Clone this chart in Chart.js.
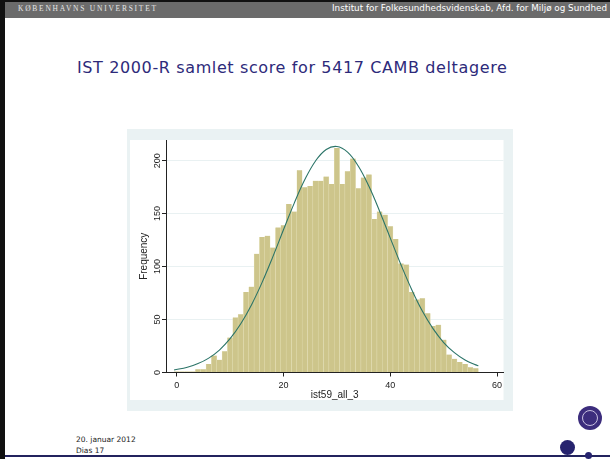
<!DOCTYPE html>
<html><head><meta charset="utf-8">
<script src="https://cdn.jsdelivr.net/npm/chart.js@4.4.0/dist/chart.umd.min.js"></script>
<style>
html,body{margin:0;padding:0;background:#fff;}
#page{position:relative;width:610px;height:459px;overflow:hidden;background:#fff;}
#hdr{position:absolute;left:0;top:0;width:610px;height:18px;background:#6b6b6b;}
#tbar{position:absolute;left:0;top:0;width:610px;height:2px;background:#111;}
#lbar{position:absolute;left:0;top:0;width:5px;height:459px;background:#111;}
#bline{position:absolute;left:5px;top:455px;width:605px;height:2px;background:#23235e;}
#ku{position:absolute;left:18px;top:4px;font-family:"Liberation Serif",serif;font-size:7.5px;letter-spacing:1.75px;color:#e6e6e6;white-space:nowrap;}
#inst{position:absolute;right:3px;top:3px;font-family:"DejaVu Sans",sans-serif;font-size:8.8px;color:#fff;white-space:nowrap;}
#title{position:absolute;left:77px;top:58px;font-family:"DejaVu Sans",sans-serif;font-size:16px;letter-spacing:0.62px;color:#2d2a7a;white-space:nowrap;}
#chartbox{position:absolute;left:127px;top:129px;width:386px;height:282px;}
#f1{position:absolute;left:76px;top:435px;font-family:"DejaVu Sans",sans-serif;font-size:7.5px;color:#222;white-space:nowrap;}
#f2{position:absolute;left:76px;top:446px;font-family:"DejaVu Sans",sans-serif;font-size:7.5px;color:#222;white-space:nowrap;}
#seal{position:absolute;left:578px;top:406px;width:24px;height:24px;border-radius:50%;background:#3c2d7d;}
#sealin{position:absolute;left:582px;top:410px;width:14px;height:14px;border-radius:50%;border:1px solid #c8c0e0;}
#dot1{position:absolute;left:560px;top:440px;width:15px;height:15px;border-radius:50%;background:#26236e;}
#dot2{position:absolute;left:585px;top:452px;width:7px;height:7px;border-radius:50%;background:#26236e;}
</style></head>
<body><div id="page">
<div id="hdr"></div><div id="tbar"></div><div id="lbar"></div><div id="bline"></div>
<div id="ku">KØBENHAVNS UNIVERSITET</div>
<div id="inst">Institut for Folkesundhedsvidenskab, Afd. for Miljø og Sundhed</div>
<div id="title">IST 2000-R samlet score for 5417 CAMB deltagere</div>
<div id="chartbox"><canvas id="c" width="386" height="282"></canvas></div>
<div id="f1">20. januar 2012</div>
<div id="f2">Dias 17</div>
<div id="seal"></div><div id="sealin"></div><div id="dot1"></div><div id="dot2"></div>
</div>
<script>
// Data
const scores = [0,1,2,3,4,5,6,7,8,9,10,11,12,13,14,15,16,17,18,19,20,21,22,23,24,25,26,27,28,29,30,31,32,33,34,35,36,37,38,39,40,41,42,43,44,45,46,47,48,49,50,51,52,53,54,55,56];
const frequencies = [1,1,1,1,3,3,8,16,12,20,33,52,55,76,81,112,128,129,118,137,139,159,152,191,175,176,181,181,185,178,212,178,190,202,174,184,187,145,152,149,138,126,103,102,76,69,70,56,44,45,31,17,13,10,8,5,4];
const curveX = [-0.5,2,4,6,8,10,12,14,16,18,20,22,24,26,28,30,32,34,36,38,40,42,44,46,48,50,52,54,56,56.5];
const curveY = [2.4,5.0,8.4,13.6,21.2,31.9,46.0,63.8,85.1,109.2,134.7,159.7,182.1,199.7,210.5,213.4,208.0,195.0,175.8,152.3,126.9,101.7,78.4,58.0,41.4,28.3,18.7,11.8,7.2,6.3];
const xTicks = [0,20,40,60];
const yTicks = [0,50,100,150,200];

const bgPlugin = {
  id:'bg',
  beforeDraw(c){
    const {ctx, chartArea:a, width, height} = c;
    ctx.save();
    ctx.fillStyle = '#eaf2f3';
    ctx.fillRect(0,0,width,height);
    ctx.fillStyle = '#ffffff';
    ctx.fillRect(3, a.top, a.right - 3, height - 11 - a.top);
    ctx.restore();
  }
};

new Chart(document.getElementById('c'), {
  type: 'bar',
  data: {
    datasets: [
      {
        type: 'line',
        data: curveX.map((x,i)=>({x:x, y:curveY[i]})),
        borderColor: '#2b7468',
        borderWidth: 1.1,
        pointRadius: 0,
        tension: 0.4,
        fill: false,
        order: 0
      },
      {
        type: 'bar',
        data: scores.map((x,i)=>({x:x, y:frequencies[i]})),
        backgroundColor: '#cdc58b',
        borderColor: '#e5e0b8',
        borderWidth: {left:0.5, right:0.5, top:0, bottom:0},
        barPercentage: 1,
        categoryPercentage: 1,
        order: 1
      }
    ]
  },
  options: {
    responsive: false,
    animation: false,
    devicePixelRatio: 1,
    layout: {padding: {top: 11, right: 9.5, left: 0, bottom: 0}},
    plugins: {legend: {display: false}, tooltip: {enabled: false}},
    scales: {
      x: {
        type: 'linear', min: -2, max: 61.2, offset: false,
        afterBuildTicks: s => { s.ticks = xTicks.map(v=>({value:v})); },
        afterFit: s => { s.height = 38.5; },
        grid: {display: true, offset: false, drawOnChartArea: false, drawTicks: true, tickLength: 4, tickColor: '#222', color:'#222'},
        border: {display: true, color: '#222', width: 1},
        ticks: {font: {family: 'Liberation Sans', size: 9}, color: '#222', padding: 3.5, maxRotation: 0, minRotation: 0},
        title: {display: true, text: 'ist59_all_3', font: {family: 'Liberation Sans', size: 10}, color: '#222', padding: {top: 0, bottom: 10}}
      },
      y: {
        type: 'linear', min: 0, max: 219.5,
        afterBuildTicks: s => { s.ticks = yTicks.map(v=>({value:v})); },
        afterFit: s => { s.width = 39; },
        grid: {color: '#e9f1f2', lineWidth: 1, tickColor: '#222', tickLength: 4, drawTicks: true},
        border: {display: true, color: '#222', width: 1},
        ticks: {font: {family: 'Liberation Sans', size: 9}, color: '#222', padding: -3, minRotation: 90, maxRotation: 90, crossAlign: 'center'},
        title: {display: true, text: 'Frequency', font: {family: 'Liberation Sans', size: 10}, color: '#222', padding: {top: 11, bottom: 0}}
      }
    }
  },
  plugins: [bgPlugin]
});
</script>
</body></html>
